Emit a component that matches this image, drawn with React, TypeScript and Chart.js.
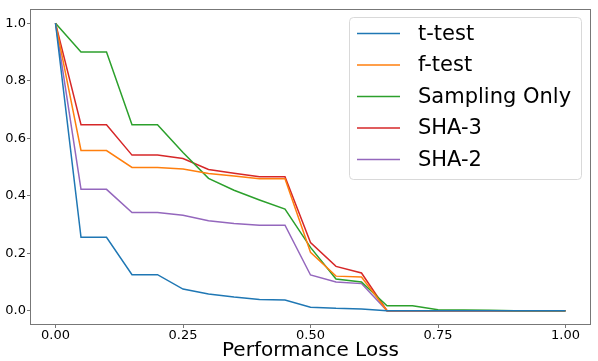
import React, { useEffect, useRef } from "react";
import { Chart, registerables } from "chart.js";

Chart.register(...registerables);

const xValues = [0, 0.05, 0.1, 0.15, 0.2, 0.25, 0.3, 0.35, 0.4, 0.45, 0.5, 0.55, 0.6, 0.65, 0.7, 0.75, 0.8, 0.85, 0.9, 0.95, 1.0];
const tTest = [1.0, 0.255, 0.255, 0.125, 0.125, 0.075, 0.058, 0.047, 0.039, 0.037, 0.012, 0.008, 0.006, 0, 0, 0, 0, 0, 0, 0, 0];
const fTest = [1.0, 0.557, 0.557, 0.498, 0.498, 0.493, 0.477, 0.468, 0.459, 0.459, 0.203, 0.12, 0.117, 0, 0, 0, 0, 0, 0, 0, 0];
const samplingOnly = [1.0, 0.9, 0.9, 0.647, 0.647, 0.55, 0.46, 0.419, 0.385, 0.353, 0.22, 0.11, 0.1, 0.017, 0.017, 0.003, 0.002, 0.001, 0, 0, 0];
const sha3 = [1.0, 0.647, 0.647, 0.541, 0.541, 0.529, 0.491, 0.478, 0.466, 0.466, 0.237, 0.154, 0.131, 0, 0, 0, 0, 0, 0, 0, 0];
const sha2 = [1.0, 0.422, 0.422, 0.341, 0.341, 0.332, 0.313, 0.303, 0.297, 0.297, 0.124, 0.1, 0.094, 0, 0, 0, 0, 0, 0, 0, 0];

const seriesNames = ["t-test", "f-test", "Sampling Only", "SHA-3", "SHA-2"];
const seriesColors = ["#1f77b4", "#ff7f0e", "#2ca02c", "#d62728", "#9467bd"];
const xTicks = [0, 0.25, 0.5, 0.75, 1.0];
const yTicks = [0, 0.2, 0.4, 0.6, 0.8, 1.0];
const xTitle = "Performance Loss";

const FONT = "'DejaVu Sans', sans-serif";

const framePlugin = {
  id: "frame",
  afterDatasetsDraw(chart: any) {
    const { ctx, chartArea } = chart;
    ctx.save();
    ctx.strokeStyle = "#777";
    ctx.lineWidth = 1;
    ctx.strokeRect(
      Math.round(chartArea.left) + 0.5,
      Math.round(chartArea.top) + 0.5,
      Math.round(chartArea.right - chartArea.left) - 1,
      Math.round(chartArea.bottom - chartArea.top) - 1
    );
    ctx.restore();
  },
};

const legendPlugin = {
  id: "customLegend",
  afterDraw(chart: any) {
    const { ctx } = chart;
    const x0 = 349.5, y0 = 17.5, w = 232, h = 162, r = 4;
    ctx.save();
    ctx.beginPath();
    ctx.moveTo(x0 + r, y0);
    ctx.lineTo(x0 + w - r, y0);
    ctx.arcTo(x0 + w, y0, x0 + w, y0 + r, r);
    ctx.lineTo(x0 + w, y0 + h - r);
    ctx.arcTo(x0 + w, y0 + h, x0 + w - r, y0 + h, r);
    ctx.lineTo(x0 + r, y0 + h);
    ctx.arcTo(x0, y0 + h, x0, y0 + h - r, r);
    ctx.lineTo(x0, y0 + r);
    ctx.arcTo(x0, y0, x0 + r, y0, r);
    ctx.closePath();
    ctx.fillStyle = "rgba(255,255,255,0.8)";
    ctx.fill();
    ctx.strokeStyle = "#d9d9d9";
    ctx.lineWidth = 1;
    ctx.stroke();
    ctx.font = `21px ${FONT}`;
    ctx.textBaseline = "middle";
    ctx.textAlign = "left";
    chart.data.datasets.forEach((ds: any, i: number) => {
      const y = 33.5 + i * 31.5;
      ctx.strokeStyle = ds.borderColor;
      ctx.lineWidth = 1.5;
      ctx.beginPath();
      ctx.moveTo(357, y);
      ctx.lineTo(400, y);
      ctx.stroke();
      ctx.fillStyle = "#000";
      ctx.fillText(ds.label, 418, y + 1);
    });
    ctx.restore();
  },
};

export default function App() {
  const canvasRef = useRef<HTMLCanvasElement | null>(null);

  useEffect(() => {
    document.body.style.margin = "0";
    const canvas = canvasRef.current;
    if (!canvas) return;
    const seriesData = [tTest, fTest, samplingOnly, sha3, sha2];
    const chart = new Chart(canvas, {
      type: "line",
      data: {
        datasets: seriesData.map((vals, i) => ({
          label: seriesNames[i],
          data: xValues.map((x, j) => ({ x, y: vals[j] })),
          borderColor: seriesColors[i],
          backgroundColor: seriesColors[i],
          borderWidth: 1.5,
          pointRadius: 0,
          tension: 0,
          fill: false,
        })),
      },
      options: {
        responsive: false,
        animation: false,
        devicePixelRatio: 1,
        layout: { padding: { top: 6, right: 7, left: 0, bottom: 0 } },
        plugins: {
          legend: { display: false },
          tooltip: { enabled: false },
        },
        scales: {
          x: {
            type: "linear",
            min: -0.05,
            max: 1.05,
            afterBuildTicks: (scale: any) => {
              scale.ticks = xTicks.map((v) => ({ value: v }));
            },
            afterFit: (scale: any) => {
              scale.height = 36;
            },
            grid: {
              drawOnChartArea: false,
              drawTicks: true,
              tickLength: 3,
              color: "#777",
            },
            border: { display: false },
            ticks: {
              padding: 0,
              color: "#000",
              font: { family: FONT, size: 13 },
              maxRotation: 0,
              callback: (v: any) => Number(v).toFixed(2),
            },
            title: {
              display: true,
              text: xTitle,
              color: "#000",
              font: { family: FONT, size: 20, lineHeight: 1 },
              padding: { top: 0, bottom: 0 },
            },
          },
          y: {
            type: "linear",
            min: -0.05,
            max: 1.05,
            afterBuildTicks: (scale: any) => {
              scale.ticks = yTicks.map((v) => ({ value: v }));
            },
            afterFit: (scale: any) => {
              scale.width = 30;
            },
            grid: {
              drawOnChartArea: false,
              drawTicks: true,
              tickLength: 3,
              color: "#777",
            },
            border: { display: false },
            ticks: {
              padding: 1,
              color: "#000",
              font: { family: FONT, size: 13 },
              callback: (v: any) => Number(v).toFixed(1),
            },
          },
        },
      },
      plugins: [framePlugin, legendPlugin],
    });
    return () => chart.destroy();
  }, []);

  return (
    <div style={{ position: "absolute", left: 0, top: 0, width: 598, height: 361, background: "#fff" }}>
      <canvas ref={canvasRef} width={598} height={361} style={{ width: 598, height: 361, display: "block" }} />
    </div>
  );
}
